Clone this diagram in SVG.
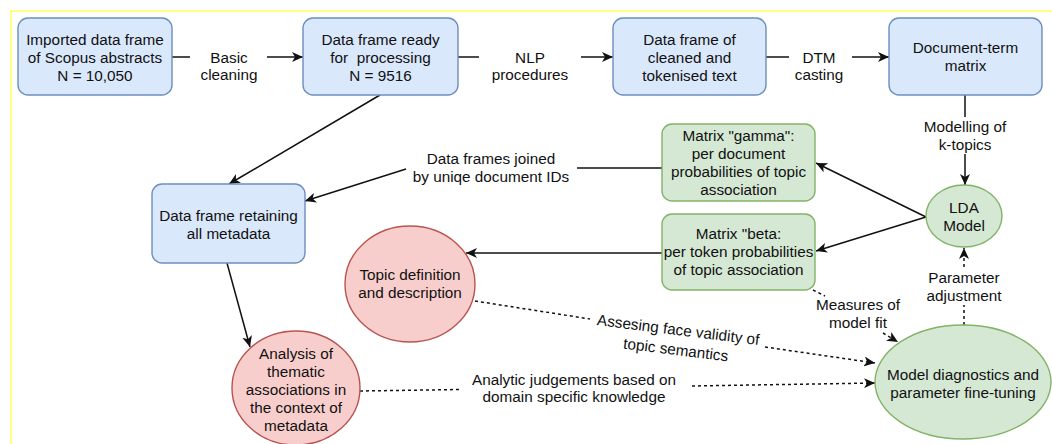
<svg xmlns="http://www.w3.org/2000/svg" width="1052" height="444" viewBox="0 0 1052 444">
<style>
text{font-family:"Liberation Sans",Arial,sans-serif;font-size:15.3px;fill:#111;text-anchor:middle;white-space:pre}
.blue{fill:#dae8fc;stroke:#6c8ebf;stroke-width:1.4}
.green{fill:#d5e8d4;stroke:#82b366;stroke-width:1.4}
.red{fill:#f8cecc;stroke:#b85450;stroke-width:1.4}
.c{fill:none;stroke:#111;stroke-width:1.5}
.d{fill:none;stroke:#111;stroke-width:1.5;stroke-dasharray:3 3}
.a{marker-end:url(#arr)}
</style>
<defs>
<marker id="arr" markerUnits="userSpaceOnUse" markerWidth="12" markerHeight="10" refX="11" refY="5" orient="auto">
<path d="M0,0 L11,5 L0,10 L3,5 z" fill="#111"/>
</marker>
</defs>
<rect width="1052" height="444" fill="#fff"/>
<path d="M11,444 L11,11 L1052,11" fill="none" stroke="#ffff88" stroke-width="2"/>

<g id="connectors">
<line class="c" x1="172" y1="57" x2="190" y2="57"/>
<line class="c a" x1="267" y1="57" x2="303" y2="57"/>
<text x="229" y="63">Basic</text><text x="229" y="80">cleaning</text>
<line class="c" x1="458" y1="57" x2="479" y2="57"/>
<line class="c a" x1="581" y1="57" x2="613" y2="57"/>
<text x="530" y="63">NLP</text><text x="530" y="80">procedures</text>
<line class="c" x1="766" y1="57" x2="789" y2="57"/>
<line class="c a" x1="852" y1="57" x2="889" y2="57"/>
<text x="819" y="63">DTM</text><text x="819" y="80">casting</text>
<line class="c" x1="965" y1="95" x2="965" y2="117"/>
<line class="c a" x1="965" y1="154" x2="965" y2="185"/>
<text x="965" y="132">Modelling of</text><text x="965" y="150">k-topics</text>
<line class="c a" x1="926" y1="217" x2="816" y2="163"/>
<line class="c a" x1="926" y1="217" x2="816" y2="251"/>
<line class="c" x1="662" y1="168" x2="577" y2="168"/>
<line class="c a" x1="406" y1="169" x2="305" y2="201"/>
<text x="491" y="164">Data frames joined</text><text x="491" y="182">by uniqe document IDs</text>
<line class="c a" x1="380" y1="95" x2="229" y2="184"/>
<line class="c a" x1="662" y1="253" x2="466" y2="253"/>
<line class="c a" x1="227" y1="263" x2="250" y2="347"/>
<line class="d" x1="360" y1="391" x2="461" y2="389.5"/>
<line class="d a" x1="692" y1="386" x2="875" y2="383"/>
<text x="574" y="385">Analytic judgements based on</text><text x="574" y="402">domain specific knowledge</text>
<line class="d" x1="475" y1="301" x2="590" y2="319"/>
<line class="d a" x1="765" y1="347" x2="875" y2="363"/>
<g transform="translate(677,340) rotate(7)"><text x="0" y="-5">Assesing face validity of</text><text x="0" y="15">topic semantics</text></g>
<line class="d" x1="813" y1="290" x2="825" y2="296"/>
<line class="d a" x1="883" y1="333" x2="898" y2="342"/>
<text x="858" y="310">Measures of</text><text x="858" y="328">model fit</text>
<line class="d" x1="964" y1="325" x2="964" y2="305"/>
<line class="d a" x1="964" y1="267" x2="964" y2="248"/>
<text x="964" y="283">Parameter</text><text x="964" y="301">adjustment</text>
</g>

<g id="n-imported"><rect class="blue" x="18" y="18" width="154" height="77" rx="10"/>
<text x="95" y="45">Imported data frame</text><text x="95" y="63">of Scopus abstracts</text><text x="95" y="81">N = 10,050</text></g>
<g id="n-ready"><rect class="blue" x="303" y="18" width="155" height="77" rx="10"/>
<text x="380.5" y="45">Data frame ready</text><text x="380.5" y="63">for  processing</text><text x="380.5" y="81">N = 9516</text></g>
<g id="n-cleaned"><rect class="blue" x="613" y="18" width="153" height="77" rx="10"/>
<text x="689.5" y="45">Data frame of</text><text x="689.5" y="63">cleaned and</text><text x="689.5" y="81">tokenised text</text></g>
<g id="n-dtm"><rect class="blue" x="889" y="18" width="153" height="77" rx="10"/>
<text x="965.5" y="53">Document-term</text><text x="965.5" y="71">matrix</text></g>
<g id="n-lda"><ellipse class="green" cx="964" cy="216" rx="38" ry="31"/>
<text x="964" y="213">LDA</text><text x="964" y="231">Model</text></g>
<g id="n-gamma"><rect class="green" x="662" y="124" width="153" height="77" rx="10"/>
<text x="738.5" y="141">Matrix "gamma":</text><text x="738.5" y="159">per document</text><text x="738.5" y="177">probabilities of topic</text><text x="738.5" y="195">association</text></g>
<g id="n-beta"><rect class="green" x="662" y="214" width="153" height="76" rx="10"/>
<text x="738.5" y="239">Matrix "beta:</text><text x="738.5" y="257">per token probabilities</text><text x="738.5" y="275">of topic association</text></g>
<g id="n-retain"><rect class="blue" x="152" y="184" width="153" height="79" rx="10"/>
<text x="228.5" y="221">Data frame retaining</text><text x="228.5" y="239">all metadata</text></g>
<g id="n-topic"><ellipse class="red" cx="410" cy="284" rx="65" ry="58"/>
<text x="410" y="280">Topic definition</text><text x="410" y="298">and description</text></g>
<g id="n-analysis"><ellipse class="red" cx="296" cy="388" rx="64" ry="57"/>
<text x="296" y="359">Analysis of</text><text x="296" y="377">thematic</text><text x="296" y="395">associations in</text><text x="296" y="413">the context of</text><text x="296" y="431">metadata</text></g>
<g id="n-diag"><ellipse class="green" cx="963" cy="382" rx="88" ry="57"/>
<text x="963" y="380">Model diagnostics and</text><text x="963" y="398">parameter fine-tuning</text></g>
</svg>
